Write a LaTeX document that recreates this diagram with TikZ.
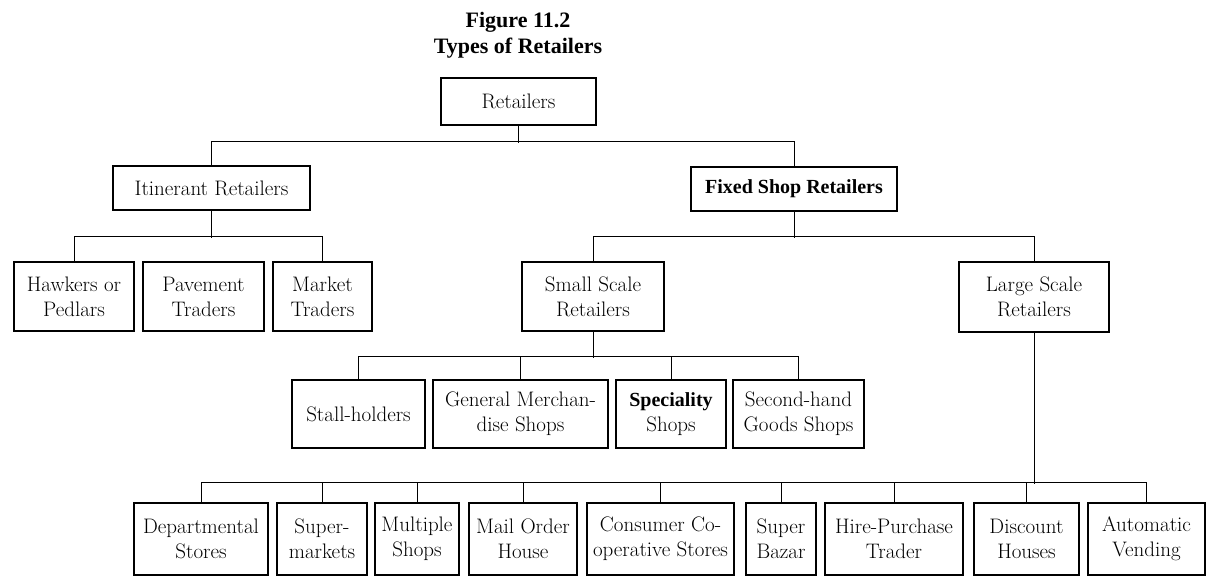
\documentclass[tikz,border=0pt]{standalone}
\usepackage{fontspec}
\newfontfamily\timesbf{Liberation Serif}
\usetikzlibrary{calc}

\tikzset{
	shop/.style={draw, line width=1.1pt, inner sep=0pt, align=center, font=\fontsize{21}{25}\selectfont},
	link/.style={line width=1pt},
	heading/.style={anchor=base, font=\timesbf\bfseries\fontsize{22}{26}\selectfont}
}

\begin{document}
\begin{tikzpicture}[x=1pt, y=-1pt]
	%%%%% START %%%%%
	\useasboundingbox (0, 0) rectangle (1215, 576);
	
	\node[heading] (fig) at (518, 27) {Figure 11.2};
	\node[heading] (types) at (518, 53) {Types of Retailers};
	
	\node[shop, minimum width=155pt, minimum height=47pt] (ret) at (518.5, 101.5) {Retailers};
	
	\node[shop, minimum width=197pt, minimum height=44pt] (itin) at (211.5, 188) {Itinerant Retailers};
	\node[shop, minimum width=206pt, minimum height=44pt] (fixed) at (794, 189) {\timesbf\bfseries\fontsize{20}{25}\selectfont Fixed Shop Retailers};
	
	\node[shop, minimum width=120pt, minimum height=69pt] (hawk) at (74, 296.5) {Hawkers or\\Pedlars};
	\node[shop, minimum width=121pt, minimum height=69pt] (pave) at (203.5, 296.5) {Pavement\\Traders};
	\node[shop, minimum width=99pt, minimum height=69pt] (mkt) at (322.5, 296.5) {Market\\Traders};
	
	\node[shop, minimum width=142pt, minimum height=69pt] (small) at (593, 296.5) {Small Scale\\Retailers};
	\node[shop, minimum width=150pt, minimum height=70pt] (large) at (1034, 297) {Large Scale\\Retailers};
	
	\node[shop, minimum width=133pt, minimum height=68pt] (stall) at (358.5, 414) {Stall-holders};
	\node[shop, minimum width=175pt, minimum height=68pt] (gen) at (520.5, 414) {General Merchan-\\dise Shops};
	\node[shop, minimum width=110pt, minimum height=68pt] (spec) at (671, 414) {{\timesbf\bfseries\fontsize{20}{25}\selectfont Speciality}\\Shops};
	\node[shop, minimum width=131pt, minimum height=68pt] (second) at (798.5, 414) {Second-hand\\Goods Shops};
	
	\node[shop, minimum width=134pt, minimum height=72pt] (dept) at (201, 539) {Departmental\\Stores};
	\node[shop, minimum width=90pt, minimum height=72pt] (super) at (322, 539) {Super-\\markets};
	\node[shop, minimum width=84pt, minimum height=72pt] (multi) at (417, 539) {Multiple\\Shops};
	\node[shop, minimum width=108pt, minimum height=72pt] (mail) at (523, 539) {Mail Order\\House};
	\node[shop, minimum width=147pt, minimum height=72pt] (coop) at (660.5, 539) {Consumer Co-\\operative Stores};
	\node[shop, minimum width=70pt, minimum height=72pt] (bazar) at (781, 539) {Super\\Bazar};
	\node[shop, minimum width=138pt, minimum height=72pt] (hire) at (894, 539) {Hire-Purchase\\Trader};
	\node[shop, minimum width=105pt, minimum height=72pt] (disc) at (1026.5, 539) {Discount\\Houses};
	\node[shop, minimum width=117pt, minimum height=72pt] (auto) at (1146.5, 539) {Automatic\\Vending};
	
	% first split
	\draw[link] (ret.south) -- ++(0, 17);
	\draw[link] (itin.north) -- ++(0, -24) -| (fixed.north);
	
	% itinerant
	\draw[link] (itin.south) -- ++(0, 27);
	\draw[link] (hawk.north) -- ++(0, -25) -| (mkt.north);
	
	% fixed shop
	\draw[link] (fixed.south) -- ++(0, 26);
	\draw[link] (small.north) -- ++(0, -25) -| (large.north);
	
	% small scale
	\draw[link] (small.south) -- ++(0, 26);
	\draw[link] (stall.north) -- ++(0, -23) -| (second.north);
	\draw[link] (gen.north) -- ++(0, -23);
	\draw[link] (spec.north) -- ++(0, -23);
	
	% large scale
	\draw[link] (large.south) -- ++(0, 151);
	\draw[link] (dept.north) -- ++(0, -20) -| (auto.north);
	\foreach \n in {super, multi, mail, coop, bazar, hire, disc}
		\draw[link] (\n.north) -- ++(0, -20);
	%%%%% END %%%%%
\end{tikzpicture}
\end{document}
